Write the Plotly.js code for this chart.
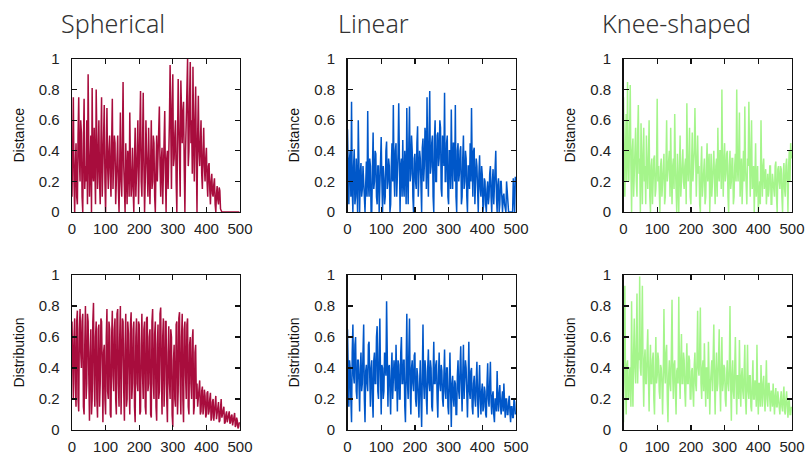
<!DOCTYPE html>
<html>
<head>
<meta charset="utf-8">
<script src="https://cdn.plot.ly/plotly-3.0.1.min.js"></script>
<style>html,body{margin:0;padding:0;background:#fff;}#chart{width:809px;height:456px;}</style>
</head>
<body>
<div id="chart"></div>
<script>
// Column titles and row labels
const columnTitles = ["Spherical", "Linear", "Knee-shaped"];
const rowLabels = ["Distance", "Distribution"];
const xStep = 2; // sample spacing of the read-off values

// Spherical – Distance
const sphericalDistance = [0.1,0.4,0.75,0.2,0.0,0.3,0.45,0.1,0.05,0.5,0.75,0.35,0.2,0.6,0.52,0.1,0.0,0.45,0.74,0.15,0.3,0.2,0.6,0.05,0.9,0.4,0.1,0.3,0.5,0.0,0.81,0.25,0.2,0.55,0.3,0.05,0.8,0.4,0.15,0.35,0.6,0.2,0.05,0.45,0.75,0.1,0.25,0.55,0.7,0.2,0.0,0.35,0.68,0.3,0.15,0.4,0.5,0.25,0.1,0.45,0.74,0.15,0.3,0.5,0.45,0.05,0.2,0.4,0.5,0.15,0.0,0.3,0.65,0.2,0.1,0.45,0.85,0.3,0.2,0.0,0.45,0.25,0.05,0.4,0.35,0.1,0.65,0.3,0.1,0.2,0.42,0.15,0.0,0.35,0.55,0.1,0.2,0.4,0.6,0.05,0.3,0.5,0.79,0.2,0.1,0.45,0.78,0.3,0.0,0.2,0.6,0.4,0.25,0.1,0.55,0.35,0.05,0.3,0.6,0.15,0.2,0.5,0.45,0.1,0.0,0.3,0.5,0.2,0.35,0.45,0.69,0.3,0.1,0.35,0.42,0.05,0.2,0.5,0.66,0.25,0.0,0.35,0.4,0.15,0.3,0.6,0.96,0.4,0.15,0.7,0.9,0.3,0.35,0.5,0.6,0.2,0.0,0.45,0.87,0.6,0.3,0.1,0.86,0.55,0.45,0.65,0.72,0.3,0.0,0.4,0.55,0.8,1.0,0.3,0.4,0.75,0.98,0.45,0.6,0.25,0.95,0.5,0.2,0.6,0.82,0.35,0.0,0.5,0.76,0.4,0.3,0.45,0.6,0.25,0.15,0.4,0.55,0.3,0.2,0.35,0.42,0.2,0.1,0.3,0.32,0.15,0.05,0.2,0.25,0.12,0.1,0.18,0.22,0.05,0.0,0.12,0.17,0.08,0.05,0.16,0.14,0.02,0.0,0.0,0,0,0,0,0,0,0,0,0,0,0,0,0,0,0,0,0,0,0,0,0,0,0,0,0,0];
// Spherical – Distribution
const sphericalDistribution = [0.7,0.25,0.2,0.6,0.72,0.3,0.15,0.7,0.77,0.2,0.12,0.65,0.78,0.5,0.4,0.7,0.75,0.15,0.1,0.55,0.8,0.2,0.3,0.75,0.7,0.35,0.06,0.5,0.65,0.1,0.2,0.7,0.82,0.3,0.15,0.6,0.7,0.2,0.08,0.65,0.68,0.15,0.3,0.72,0.7,0.4,0.05,0.5,0.55,0.2,0.1,0.6,0.78,0.25,0.2,0.7,0.65,0.1,0.08,0.6,0.77,0.35,0.25,0.65,0.72,0.2,0.1,0.75,0.78,0.3,0.15,0.6,0.8,0.1,0.35,0.72,0.7,0.25,0.06,0.55,0.75,0.15,0.2,0.7,0.62,0.3,0.1,0.68,0.76,0.2,0.3,0.65,0.7,0.15,0.05,0.6,0.72,0.3,0.25,0.7,0.68,0.1,0.12,0.55,0.75,0.35,0.2,0.65,0.7,0.15,0.1,0.72,0.73,0.25,0.3,0.6,0.65,0.1,0.08,0.7,0.78,0.3,0.2,0.62,0.7,0.15,0.06,0.55,0.68,0.2,0.25,0.75,0.79,0.35,0.1,0.6,0.72,0.15,0.3,0.7,0.7,0.2,0.05,0.5,0.67,0.3,0.2,0.65,0.6,0.1,0.02,0.45,0.55,0.2,0.15,0.68,0.7,0.1,0.25,0.72,0.76,0.3,0.1,0.6,0.75,0.2,0.05,0.65,0.7,0.35,0.2,0.68,0.72,0.15,0.1,0.55,0.6,0.3,0.2,0.58,0.65,0.1,0.15,0.5,0.55,0.2,0.3,0.15,0.2,0.3,0.32,0.1,0.12,0.25,0.28,0.1,0.15,0.26,0.22,0.08,0.1,0.24,0.25,0.1,0.12,0.2,0.24,0.06,0.08,0.18,0.2,0.06,0.1,0.15,0.22,0.07,0.12,0.16,0.18,0.05,0.06,0.14,0.2,0.08,0.1,0.12,0.15,0.04,0.05,0.1,0.12,0.05,0.07,0.11,0.12,0.04,0.05,0.09,0.1,0.03,0.06,0.1,0.11,0.02,0.03,0.08,0.06,0.01,0.02,0.05];
// Linear – Distance
const linearDistance = [0.54,0.2,0.05,0.35,0.4,0.1,0.72,0.15,0.0,0.3,0.41,0.05,0.1,0.35,0.2,0.0,0.6,0.2,0.0,0.25,0.32,0.1,0.15,0.3,0.2,0.05,0.0,0.18,0.33,0.1,0.66,0.2,0.1,0.35,0.3,0.0,0.0,0.28,0.52,0.15,0.2,0.4,0.38,0.1,0.05,0.3,0.3,0.0,0.15,0.35,0.49,0.2,0.0,0.3,0.22,0.05,0.1,0.4,0.46,0.15,0.2,0.35,0.3,0.0,0.05,0.3,0.45,0.2,0.7,0.25,0.1,0.4,0.45,0.1,0.2,0.38,0.71,0.15,0.0,0.3,0.35,0.1,0.47,0.2,0.1,0.4,0.3,0.05,0.68,0.25,0.05,0.45,0.69,0.2,0.25,0.5,0.4,0.1,0.0,0.35,0.38,0.2,0.15,0.45,0.56,0.1,0.2,0.4,0.35,0.05,0.0,0.42,0.48,0.2,0.3,0.55,0.49,0.15,0.75,0.3,0.1,0.5,0.79,0.25,0.3,0.45,0.5,0.1,0.0,0.48,0.6,0.2,0.2,0.5,0.52,0.3,0.35,0.6,0.55,0.15,0.1,0.5,0.45,0.3,0.78,0.2,0.2,0.45,0.5,0.1,0.05,0.4,0.4,0.15,0.67,0.3,0.15,0.45,0.45,0.2,0.7,0.1,0.0,0.4,0.45,0.2,0.25,0.4,0.43,0.05,0.1,0.35,0.5,0.15,0.2,0.4,0.35,0.1,0.0,0.3,0.3,0.15,0.45,0.2,0.68,0.3,0.1,0.4,0.42,0.05,0.2,0.35,0.3,0.1,0.0,0.25,0.37,0.15,0.1,0.3,0.24,0.0,0.05,0.22,0.2,0.05,0.0,0.15,0.2,0.05,0.1,0.25,0.3,0.1,0.0,0.2,0.28,0.05,0.15,0.3,0.4,0.1,0.0,0.18,0.22,0.0,0.05,0.2,0.2,0.1,0.0,0.1,0.12,0.05,0.0,0.0,0.2,0.1,0.0,0.0,0.0,0.0,0.0,0.0,0.0,0.0,0.22,0.1,0.0,0.23];
// Linear – Distribution
const linearDistribution = [0.65,0.3,0.15,0.45,0.4,0.2,0.05,0.5,0.68,0.35,0.3,0.55,0.6,0.25,0.2,0.45,0.45,0.3,0.12,0.4,0.5,0.25,0.3,0.5,0.68,0.2,0.05,0.38,0.42,0.3,0.25,0.55,0.57,0.35,0.15,0.4,0.45,0.2,0.08,0.45,0.5,0.3,0.3,0.6,0.67,0.25,0.2,0.5,0.72,0.35,0.1,0.42,0.4,0.2,0.25,0.5,0.42,0.35,0.83,0.3,0.15,0.4,0.42,0.25,0.1,0.38,0.5,0.2,0.3,0.45,0.38,0.25,0.55,0.3,0.12,0.45,0.42,0.2,0.2,0.5,0.6,0.3,0.3,0.45,0.45,0.15,0.05,0.4,0.75,0.3,0.2,0.5,0.72,0.25,0.1,0.4,0.45,0.3,0.25,0.48,0.5,0.2,0.15,0.4,0.35,0.2,0.08,0.3,0.45,0.2,0.02,0.35,0.68,0.3,0.2,0.45,0.38,0.2,0.1,0.4,0.52,0.3,0.25,0.45,0.4,0.15,0.12,0.35,0.57,0.3,0.3,0.42,0.45,0.2,0.08,0.35,0.5,0.3,0.25,0.42,0.38,0.2,0.15,0.35,0.52,0.25,0.2,0.4,0.4,0.15,0.1,0.3,0.5,0.25,0.02,0.3,0.35,0.2,0.15,0.32,0.3,0.1,0.1,0.35,0.45,0.25,0.2,0.4,0.54,0.3,0.12,0.35,0.55,0.2,0.3,0.45,0.4,0.15,0.08,0.3,0.57,0.25,0.2,0.38,0.4,0.15,0.1,0.3,0.35,0.2,0.15,0.32,0.44,0.2,0.08,0.28,0.42,0.2,0.1,0.25,0.3,0.12,0.15,0.28,0.25,0.1,0.08,0.3,0.43,0.2,0.15,0.3,0.44,0.18,0.1,0.22,0.25,0.1,0.05,0.2,0.2,0.12,0.38,0.2,0.12,0.24,0.29,0.15,0.1,0.2,0.25,0.12,0.3,0.18,0.08,0.2,0.2,0.1,0.1,0.18,0.22,0.12,0.05,0.15,0.15,0.08,0.08,0.2,0.18,0.1];
// Knee-shaped – Distance
const kneeDistance = [0.75,0.3,0.1,0.4,0.64,0.2,0.85,0.35,0.2,0.5,0.83,0.3,0.0,0.4,0.48,0.1,0.3,0.45,0.55,0.2,0.1,0.5,0.7,0.25,0.35,0.0,0.58,0.3,0.05,0.38,0.55,0.2,0.3,0.05,0.5,0.3,0.15,0.35,0.6,0.1,0.0,0.3,0.35,0.05,0.3,0.35,0.37,0.1,0.15,0.3,0.74,0.2,0.3,0.05,0.0,0.3,0.35,0.1,0.2,0.32,0.38,0.05,0.1,0.3,0.6,0.2,0.25,0.35,0.4,0.1,0.55,0.25,0.05,0.3,0.35,0.15,0.64,0.3,0.2,0.0,0.38,0.25,0.0,0.3,0.5,0.1,0.25,0.35,0.41,0.2,0.15,0.3,0.35,0.05,0.71,0.3,0.2,0.35,0.55,0.1,0.05,0.3,0.52,0.2,0.3,0.4,0.68,0.15,0.1,0.3,0.5,0.25,0.3,0.05,0.0,0.3,0.43,0.1,0.2,0.35,0.35,0.05,0.1,0.3,0.45,0.2,0.3,0.38,0.0,0.25,0.38,0.1,0.2,0.35,0.4,0.2,0.05,0.3,0.35,0.1,0.55,0.25,0.2,0.4,0.4,0.15,0.8,0.3,0.1,0.35,0.45,0.2,0.25,0.38,0.4,0.1,0.0,0.3,0.4,0.15,0.2,0.35,0.35,0.05,0.1,0.3,0.38,0.2,0.8,0.3,0.2,0.4,0.65,0.1,0.3,0.35,0.05,0.3,0.4,0.2,0.69,0.3,0.2,0.05,0.35,0.3,0.72,0.2,0.1,0.35,0.6,0.15,0.3,0.3,0.0,0.25,0.45,0.1,0.25,0.3,0.0,0.2,0.2,0.05,0.6,0.25,0.1,0.3,0.35,0.15,0.2,0.28,0.05,0.2,0.25,0.1,0.15,0.3,0.3,0.05,0.05,0.25,0.2,0.15,0.1,0.3,0.33,0.1,0.0,0.28,0.3,0.2,0.15,0.3,0.28,0.1,0.0,0.25,0.32,0.15,0.1,0.3,0.35,0.2,0.0,0.3,0.4,0.2,0.45,0.35];
// Knee-shaped – Distribution
const kneeDistribution = [0.05,0.4,0.93,0.3,0.1,0.42,0.45,0.2,0.2,0.4,0.4,0.15,0.83,0.35,0.15,0.5,0.72,0.4,0.3,0.55,0.88,0.3,0.5,0.45,0.99,0.4,0.35,0.6,0.93,0.4,0.15,0.45,0.52,0.3,0.3,0.5,0.65,0.35,0.12,0.4,0.55,0.3,0.3,0.45,0.5,0.2,0.1,0.4,0.6,0.3,0.35,0.5,0.45,0.25,0.2,0.42,0.4,0.3,0.1,0.35,0.78,0.4,0.3,0.5,0.55,0.2,0.05,0.35,0.45,0.3,0.25,0.5,0.84,0.35,0.2,0.42,0.45,0.25,0.1,0.38,0.4,0.3,0.86,0.4,0.2,0.45,0.62,0.3,0.3,0.5,0.45,0.25,0.15,0.4,0.56,0.3,0.3,0.48,0.45,0.2,0.2,0.38,0.4,0.25,0.15,0.42,0.5,0.3,0.25,0.45,0.77,0.4,0.35,0.5,0.79,0.3,0.2,0.4,0.45,0.25,0.56,0.35,0.15,0.4,0.4,0.2,0.57,0.35,0.1,0.3,0.35,0.45,0.25,0.4,0.68,0.3,0.1,0.38,0.5,0.25,0.3,0.45,0.65,0.3,0.12,0.4,0.6,0.25,0.3,0.42,0.4,0.2,0.15,0.35,0.45,0.3,0.25,0.4,0.8,0.3,0.06,0.35,0.45,0.25,0.2,0.4,0.6,0.3,0.1,0.35,0.35,0.2,0.58,0.3,0.15,0.35,0.4,0.25,0.2,0.38,0.55,0.2,0.1,0.3,0.55,0.25,0.2,0.35,0.35,0.15,0.12,0.3,0.45,0.2,0.2,0.32,0.3,0.15,0.55,0.25,0.1,0.3,0.3,0.15,0.42,0.25,0.15,0.3,0.35,0.2,0.12,0.28,0.45,0.2,0.15,0.3,0.3,0.2,0.12,0.25,0.25,0.15,0.3,0.2,0.1,0.22,0.27,0.15,0.15,0.25,0.2,0.12,0.1,0.2,0.25,0.15,0.12,0.22,0.28,0.12,0.1,0.2,0.25,0.15,0.08,0.18,0.2,0.1,0.1,0.15];

const seriesGrid = [
  [sphericalDistance, linearDistance, kneeDistance],
  [sphericalDistribution, linearDistribution, kneeDistribution]
];
const colors = ["#a80d3d", "#0057c9", "#a5f58b"];

const W = 809, H = 456;
const colPx = [[72, 240], [347.5, 516], [623.5, 792]];
const rowPx = [[59, 212], [275, 430]];
const ytitleX = [18, 293, 569];
const titleX = [113, 373, 676];

const traces = [];
const layout = {
  width: W, height: H,
  margin: {l: 0, r: 0, t: 0, b: 0},
  paper_bgcolor: "#fff", plot_bgcolor: "#fff",
  showlegend: false,
  annotations: []
};

let n = 0;
for (let r = 0; r < 2; r++) {
  for (let c = 0; c < 3; c++) {
    n++;
    const suf = n === 1 ? "" : String(n);
    const vals = seriesGrid[r][c];
    const xs = vals.map((_, i) => i * xStep);
    traces.push({
      x: xs, y: vals, type: "scatter", mode: "lines",
      line: {color: colors[c], width: 1.5},
      xaxis: "x" + suf, yaxis: "y" + suf,
      hoverinfo: "skip"
    });
    const common = {
      showline: true, linecolor: "#111", linewidth: 1.3, mirror: "ticks",
      ticks: "inside", ticklen: 5, tickwidth: 1.2, tickcolor: "#111",
      showgrid: false, zeroline: false,
      tickfont: {family: "Liberation Sans, Arial, sans-serif", size: 15, color: "#222"}
    };
    layout["xaxis" + suf] = Object.assign({}, common, {
      domain: [colPx[c][0] / W, colPx[c][1] / W],
      range: [0, 500], dtick: 100, tick0: 0,
      anchor: "y" + suf, ticklabelstandoff: 3
    });
    layout["yaxis" + suf] = Object.assign({}, common, {
      domain: [1 - rowPx[r][1] / H, 1 - rowPx[r][0] / H],
      range: [0, 1], dtick: 0.2, tick0: 0,
      anchor: "x" + suf, ticklabelstandoff: 8
    });
    layout.annotations.push({
      text: rowLabels[r], xref: "paper", yref: "paper",
      x: ytitleX[c] / W, y: 1 - (rowPx[r][0] + rowPx[r][1]) / 2 / H,
      xanchor: "center", yanchor: "middle", textangle: -90, showarrow: false,
      font: {family: "Liberation Sans, Arial, sans-serif", size: 14, color: "#111"}
    });
  }
}
for (let c = 0; c < 3; c++) {
  layout.annotations.push({
    text: columnTitles[c], xref: "paper", yref: "paper",
    x: titleX[c] / W, y: 1 - 23 / H, xanchor: "center", yanchor: "middle",
    showarrow: false,
    font: {family: "Noto Sans, Open Sans, sans-serif", size: 25, weight: 300, color: "#333"}
  });
}

Plotly.newPlot("chart", traces, layout, {staticPlot: true, displayModeBar: false});
</script>
</body>
</html>
